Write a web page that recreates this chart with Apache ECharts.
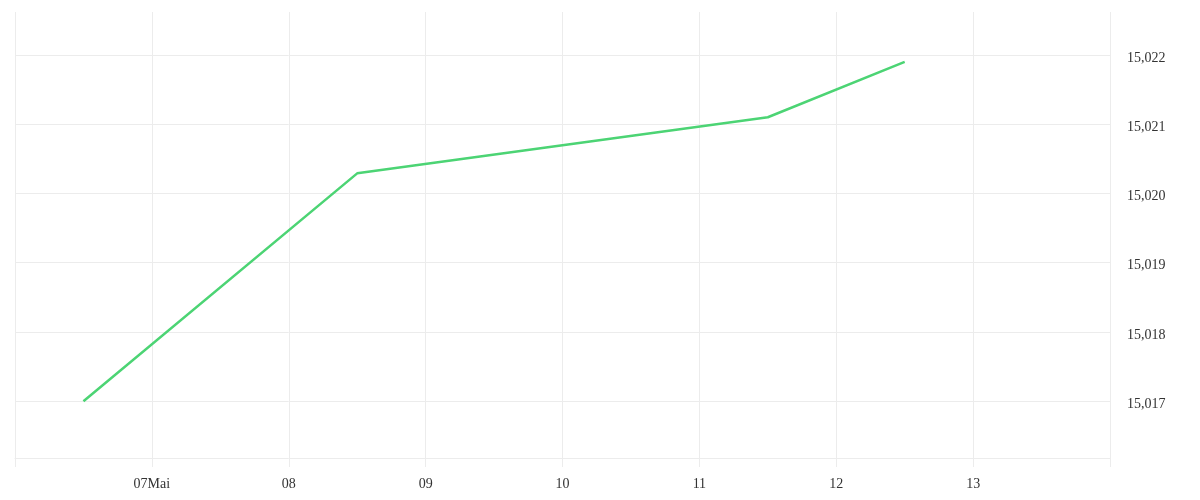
<!DOCTYPE html>
<html>
<head>
<meta charset="utf-8">
<script src="https://cdn.jsdelivr.net/npm/echarts@6/dist/echarts.min.js"></script>
<style>html,body{margin:0;padding:0;background:#fff}#c{width:1200px;height:500px}</style>
</head>
<body>
<div id="c"></div>
<script>
var pointDates = [[2024,4,6,12],[2024,4,8,12],[2024,4,11,12],[2024,4,12,12]];
var values = [15.0170, 15.02029, 15.0211, 15.0219];
var xTickLabels = {6:'', 7:'07Mai', 8:'08', 9:'09', 10:'10', 11:'11', 12:'12', 13:'13', 14:''};
var xStart = [2024,4,6];
var xEnd = [2024,4,14];
var yMin = 15.01618, yMax = 15.02262;

var DAY = 86400000;
var data = pointDates.map(function(d,i){ return [new Date(d[0],d[1],d[2],d[3]).getTime(), values[i]]; });
var gridColor = '#ececec';
var font = {fontFamily:'Liberation Serif', fontSize:14, color:'#333'};

var chart = echarts.init(document.getElementById('c'));
chart.setOption({
  animation:false,
  grid:{left:15, right:90, top:12, bottom:42, containLabel:false},
  xAxis:{
    type:'time',
    min:new Date(xStart[0],xStart[1],xStart[2]).getTime(),
    max:new Date(xEnd[0],xEnd[1],xEnd[2]).getTime(),
    minInterval:DAY, maxInterval:DAY,
    axisLine:{show:true, lineStyle:{color:gridColor, width:1}},
    axisTick:{show:true, length:9, lineStyle:{color:gridColor}},
    splitLine:{show:true, lineStyle:{color:gridColor, width:1}},
    axisLabel:Object.assign({margin:19, showMinLabel:true, showMaxLabel:true, hideOverlap:false,
      formatter:function(v){ var d=new Date(v); var l=xTickLabels[d.getDate()]; return l===undefined?'':l; }}, font)
  },
  yAxis:{
    type:'value', position:'right', min:yMin, max:yMax,
    axisLine:{show:false}, axisTick:{show:false},
    splitLine:{show:true, showMinLine:false, showMaxLine:false, lineStyle:{color:gridColor, width:1}},
    axisLabel:Object.assign({margin:17, showMinLabel:false, showMaxLabel:false, verticalAlign:'top', lineHeight:6,
      formatter:function(v){ return v.toFixed(3).replace('.', ','); }}, font)
  },
  series:[{
    type:'line', data:data, showSymbol:false, symbol:'none',
    lineStyle:{color:'#4cd474', width:2.5}
  }]
});
</script>
</body>
</html>
